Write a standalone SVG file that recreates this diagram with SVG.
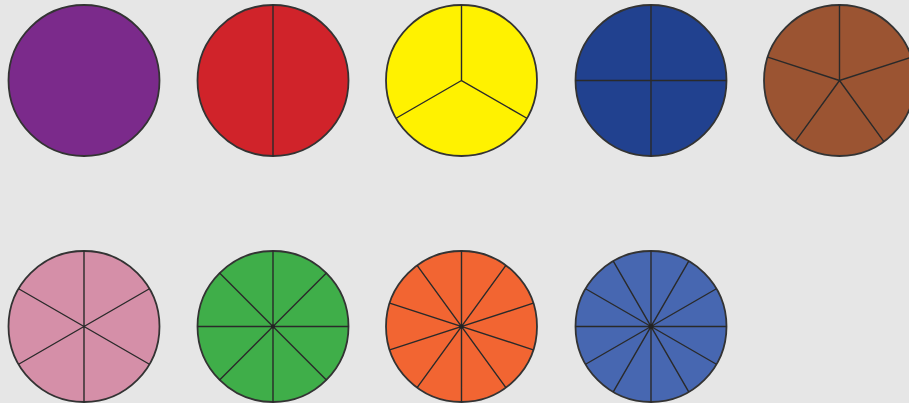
<svg xmlns="http://www.w3.org/2000/svg" width="909" height="403" viewBox="0 0 909 403">
<style>
.c{stroke:#333;stroke-width:1.8}
.d{stroke:#2a2a2a;stroke-width:1.4;fill:none}
</style>
<rect width="909" height="403" fill="#e6e6e6"/>
<g id="purple" transform="translate(84,80.5)"><circle class="c" r="75.5" fill="#7b2a8b"/></g>
<g id="red" transform="translate(273,80.5)"><circle class="c" r="75.5" fill="#d0232a"/><path class="d" d="M0-75.5V75.5"/></g>
<g id="yellow" transform="translate(461.5,80.5)"><circle class="c" r="75.5" fill="#fff200"/><path class="d" d="M0-75.5V0L65.4 37.75M0 0L-65.4 37.75"/></g>
<g id="blue" transform="translate(651,80.5)"><circle class="c" r="75.5" fill="#21418f"/><path class="d" d="M0-75.5V75.5M-75.5 0H75.5"/></g>
<g id="brown" transform="translate(839.5,80.5)"><circle class="c" r="75.5" fill="#9b5432"/><path class="d" d="M0-75.5V0L71.8-23.3M0 0L44.4 61.1M0 0L-44.4 61.1M0 0L-71.8-23.3"/></g>
<g id="pink" transform="translate(84,326.5)"><circle class="c" r="75.5" fill="#d58fa8"/><path class="d" d="M0-75.5V75.5M-65.4-37.75L65.4 37.75M65.4-37.75L-65.4 37.75"/></g>
<g id="green" transform="translate(273,326.5)"><circle class="c" r="75.5" fill="#3fae49"/><path class="d" d="M0-75.5V75.5M-75.5 0H75.5M-53.4-53.4L53.4 53.4M53.4-53.4L-53.4 53.4"/><circle r="2" fill="#222"/></g>
<g id="orange" transform="translate(461.5,326.5)"><circle class="c" r="75.5" fill="#f26532"/><path class="d" d="M0-75.5V75.5M44.4-61.1L-44.4 61.1M71.8-23.3L-71.8 23.3M71.8 23.3L-71.8-23.3M44.4 61.1L-44.4-61.1"/><circle r="2" fill="#222"/></g>
<g id="lightblue" transform="translate(651,326.5)"><circle class="c" r="75.5" fill="#4767b1"/><path class="d" d="M0-75.5V75.5M-75.5 0H75.5M37.75-65.4L-37.75 65.4M65.4-37.75L-65.4 37.75M65.4 37.75L-65.4-37.75M37.75 65.4L-37.75-65.4"/><circle r="2.2" fill="#222"/></g>
</svg>
